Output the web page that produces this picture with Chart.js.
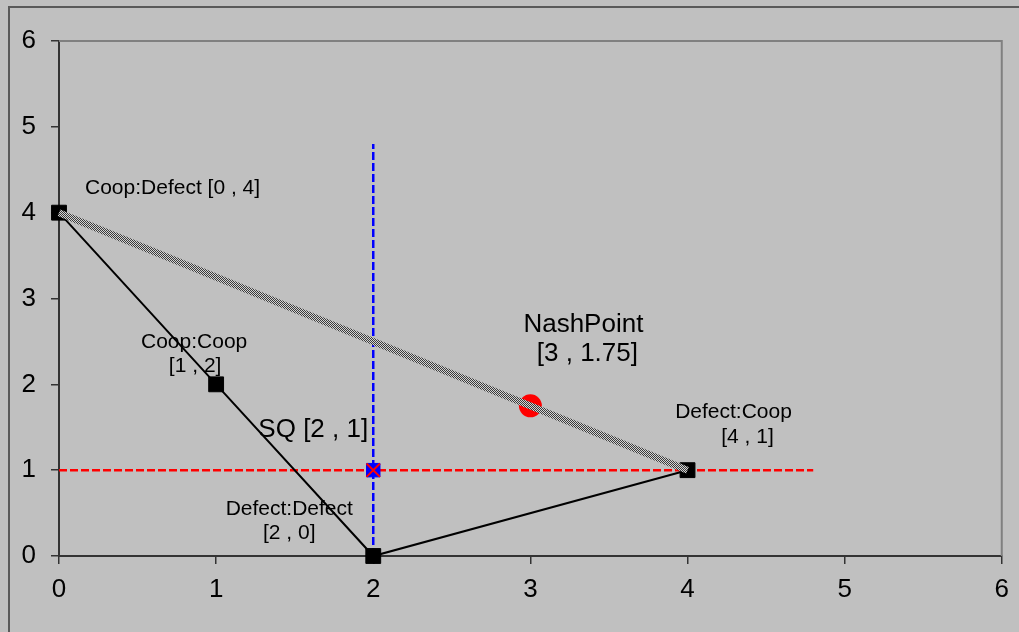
<!DOCTYPE html>
<html>
<head>
<meta charset="utf-8">
<script src="https://cdn.jsdelivr.net/npm/chart.js@4/dist/chart.umd.min.js"></script>
<style>
  html, body { margin: 0; padding: 0; background: #c0c0c0; }
  canvas { display: block; }
</style>
</head>
<body>
<canvas id="c" width="1019" height="632"></canvas>
<script>
// Axis ranges and tick values
const axisTicks = [0, 1, 2, 3, 4, 5, 6];

// Outcomes of the game (player 1 payoff, player 2 payoff)
const outcomeNames = ['Coop:Defect', 'Coop:Coop', 'Defect:Defect', 'Defect:Coop'];
const outcomeX = [0, 1, 2, 4];
const outcomeY = [4, 2, 0, 1];

// Pareto frontier between Coop:Defect and Defect:Coop
const frontierX = [0, 4];
const frontierY = [4, 1];

// Nash bargaining point
const nashX = [3];
const nashY = [1.75];

// Status quo point
const sqX = [2];
const sqY = [1];

// Status quo reference lines
const sqVerticalX = [2, 2];
const sqVerticalY = [0, 4.8];
const sqHorizontalX = [0, 4.8];
const sqHorizontalY = [1, 1];

// Annotation texts, each tied to a data point
const labelTexts = [
  'Coop:Defect [0 , 4]',
  'Coop:Coop', '[1 , 2]',
  'SQ [2 , 1]',
  'NashPoint', '[3 , 1.75]',
  'Defect:Coop', '[4 , 1]',
  'Defect:Defect', '[2 , 0]'
];
const labelAnchorX = [0, 1, 1, 2, 3, 3, 4, 4, 2, 2];
const labelAnchorY = [4, 2, 2, 1, 1.75, 1.75, 1, 1, 0, 0];

const pts = (xs, ys) => xs.map((x, i) => ({ x: x, y: ys[i] }));

// Placement of each annotation relative to its anchor (pixels)
const labelStyle = [
  { dx: 26, dy: -24, size: 21, align: 'left' },
  { dx: -22, dy: -42, size: 21, align: 'center' },
  { dx: -21, dy: -18, size: 21, align: 'center' },
  { dx: -60, dy: -40, size: 26, align: 'center' },
  { dx: 53, dy: -81, size: 26, align: 'center' },
  { dx: 57, dy: -52, size: 26, align: 'center' },
  { dx: 46, dy: -58, size: 21, align: 'center' },
  { dx: 60, dy: -33, size: 21, align: 'center' },
  { dx: -84, dy: -47, size: 21, align: 'center' },
  { dx: -84, dy: -23, size: 21, align: 'center' }
];

// Checkered mesh pattern for the frontier line
function makeChecker() {
  const pc = document.createElement('canvas');
  pc.width = 2; pc.height = 2;
  const g = pc.getContext('2d');
  g.fillStyle = '#d4d4d4'; g.fillRect(0, 0, 2, 2);
  g.fillStyle = '#3a3a3a'; g.fillRect(0, 0, 1, 1); g.fillRect(1, 1, 1, 1);
  return g.createPattern(pc, 'repeat');
}

const FONT = '"Liberation Sans", Arial, Helvetica, sans-serif';

const annotations = {
  id: 'annotations',
  beforeDatasetsDraw(chart) {
    const ctx = chart.ctx;
    const xs = chart.scales.x, ys = chart.scales.y;
    ctx.save();
    ctx.fillStyle = '#000';
    ctx.textBaseline = 'middle';
    labelTexts.forEach((t, i) => {
      const st = labelStyle[i];
      ctx.font = st.size + 'px ' + FONT;
      ctx.textAlign = st.align;
      ctx.fillText(t, xs.getPixelForValue(labelAnchorX[i]) + st.dx,
                      ys.getPixelForValue(labelAnchorY[i]) + st.dy);
    });
    ctx.restore();
  }
};

const frames = {
  id: 'frames',
  beforeDatasetsDraw(chart) {
    const ctx = chart.ctx;
    const a = chart.chartArea;
    ctx.save();
    // top and right edges of the plot area
    ctx.strokeStyle = '#808080';
    ctx.lineWidth = 2;
    ctx.beginPath();
    ctx.moveTo(a.left, a.top);
    ctx.lineTo(a.right, a.top);
    ctx.lineTo(a.right, a.bottom);
    ctx.stroke();
    // outer frame
    ctx.strokeStyle = '#5a5a5a';
    ctx.lineWidth = 2;
    ctx.beginPath();
    ctx.moveTo(9, 640);
    ctx.lineTo(9, 7);
    ctx.lineTo(1030, 7);
    ctx.stroke();
    ctx.restore();
  }
};

const axisCommon = {
  type: 'linear',
  min: axisTicks[0],
  max: axisTicks[axisTicks.length - 1],
  afterBuildTicks(scale) { scale.ticks = axisTicks.map(v => ({ value: v })); },
  grid: { display: true, drawOnChartArea: false, drawTicks: true, tickLength: 8, color: '#333', lineWidth: 1.5 },
  border: { display: true, color: '#333', width: 2 },
};

new Chart(document.getElementById('c'), {
  type: 'scatter',
  data: {
    datasets: [
      { data: pts(sqX, sqY), pointStyle: 'crossRot', pointRadius: 9.5, borderColor: '#ff0000', borderWidth: 2, backgroundColor: '#ff0000', clip: false },
      { data: pts(sqX, sqY), pointStyle: 'rect', pointRadius: 9.5, backgroundColor: '#0000ff', borderColor: '#0000ff', borderWidth: 1, clip: false },
      { data: pts(frontierX, frontierY), showLine: true, borderColor: makeChecker(), borderWidth: 7, pointRadius: 0, clip: false },
      { data: pts(outcomeX, outcomeY), showLine: true, borderColor: '#000', borderWidth: 2, clip: false,
        pointStyle: 'rect', pointRadius: 10.5, pointBackgroundColor: '#000', pointBorderColor: '#000', pointBorderWidth: 1 },
      { data: pts(nashX, nashY), pointStyle: 'circle', pointRadius: 11.5, backgroundColor: '#ff0000', borderColor: '#ff0000', borderWidth: 0, clip: false },
      { data: pts(sqVerticalX, sqVerticalY), showLine: true, borderColor: '#0000ff', borderWidth: 2.5, borderDash: [8, 3], pointRadius: 0 },
      { data: pts(sqHorizontalX, sqHorizontalY), showLine: true, borderColor: '#ff0000', borderWidth: 2.5, borderDash: [8, 3], pointRadius: 0 }
    ]
  },
  options: {
    responsive: false,
    animation: false,
    devicePixelRatio: 1,
    layout: { padding: { top: 41, right: 14, left: 0, bottom: 0 } },
    plugins: { legend: { display: false }, tooltip: { enabled: false } },
    scales: {
      x: Object.assign({}, axisCommon, {
        position: 'bottom',
        ticks: { font: { size: 26, family: FONT }, color: '#000', padding: 10, maxRotation: 0, autoSkip: false },
        afterFit(scale) { scale.height = 76; }
      }),
      y: Object.assign({}, axisCommon, {
        position: 'left',
        ticks: { font: { size: 26, family: FONT }, color: '#000', padding: 15, autoSkip: false },
        afterFit(scale) { scale.width = 59; }
      })
    }
  },
  plugins: [annotations, frames]
});
</script>
</body>
</html>
